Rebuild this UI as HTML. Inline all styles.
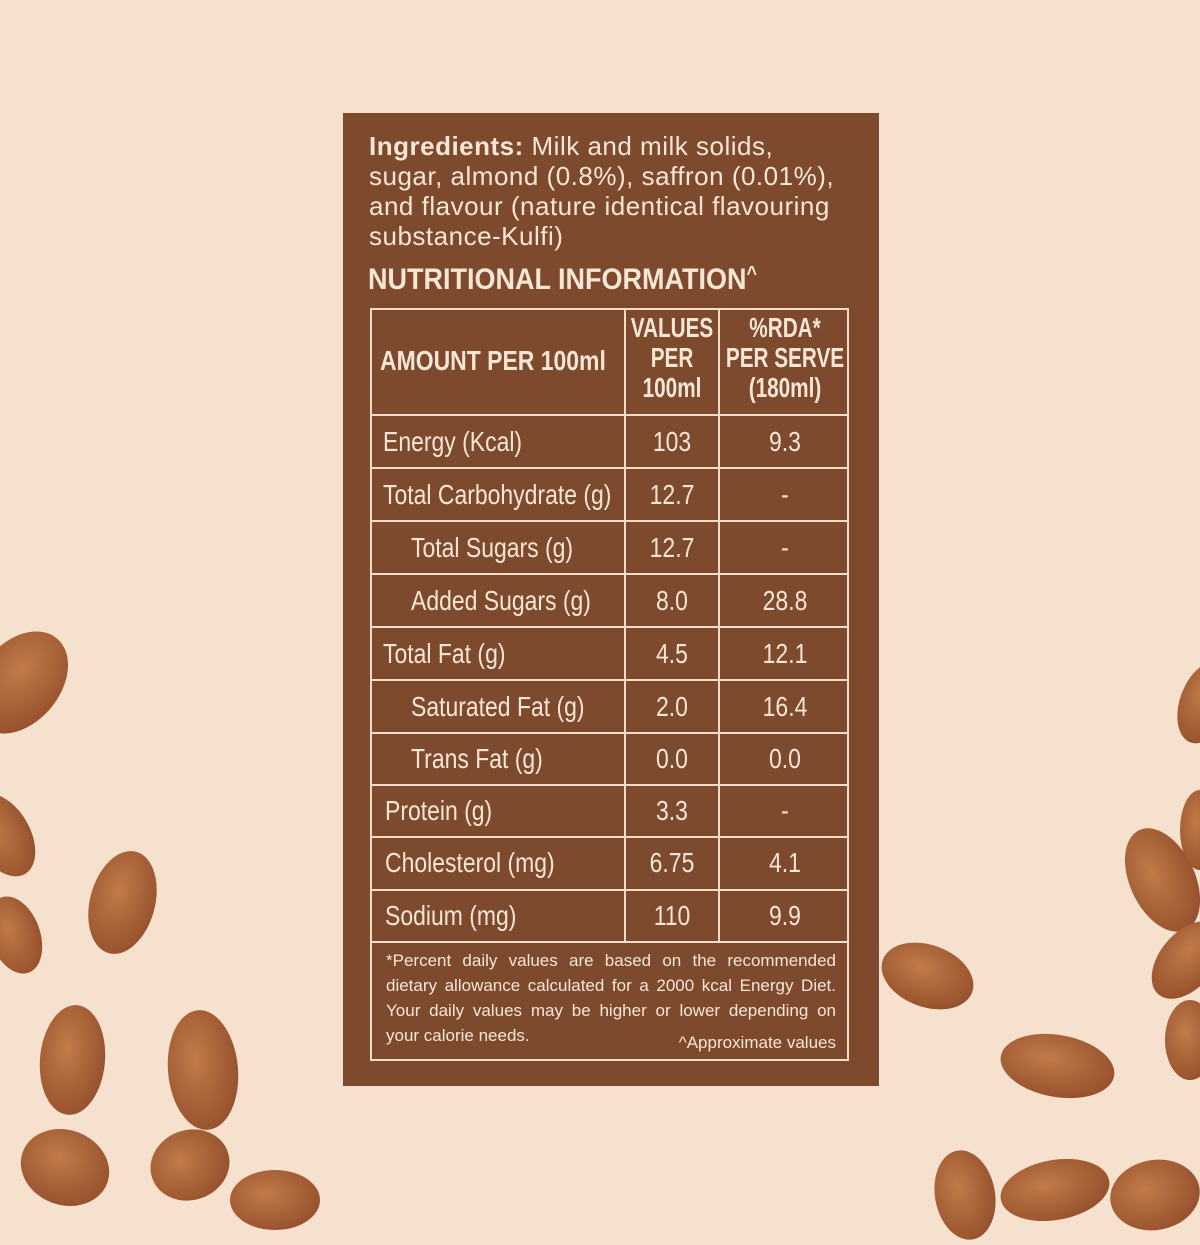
<!DOCTYPE html>
<html><head><meta charset="utf-8"><style>
body{margin:0;width:1200px;height:1200px;background:#f5e1cd;position:relative;overflow:hidden;font-family:"Liberation Sans",sans-serif;}
.panel{position:absolute;left:343px;top:113px;width:536px;height:973px;background:#7d4a2d;color:#f7e6d6;}
.ing{position:absolute;left:26px;top:18px;font-size:26px;line-height:30px;white-space:nowrap;letter-spacing:0.5px;}
.title{position:absolute;left:25px;top:150px;font-size:30px;font-weight:bold;white-space:nowrap;transform:scaleX(0.9);transform-origin:left;}
.t{position:absolute;border:2px solid #f4dcc8;box-sizing:border-box;}
.h{position:absolute;background:#f4dcc8;height:2px;}
.v{position:absolute;background:#f4dcc8;width:2px;}
.c{position:absolute;font-size:28px;line-height:52px;white-space:nowrap;}
.c span{display:inline-block;transform:scaleX(0.82);transform-origin:left;}
.n span{position:absolute;left:50%;top:0;text-align:center;transform:translateX(-50%) scaleX(0.82);transform-origin:center;}
.hd span{transform:translateX(-50%) scaleX(0.74);}
.f{position:absolute;left:43px;width:450px;font-size:17px;line-height:25px;text-align:justify;text-align-last:justify;white-space:nowrap;}
.a{position:absolute;border-radius:50%;background:radial-gradient(ellipse at 40% 40%,#c27a48,#9a5530 70%,#7a3e22);}
</style></head><body>
<div class="a" style="left:-20px;top:625px;width:80px;height:115px;transform:rotate(40deg)"></div>
<div class="a" style="left:-25px;top:790px;width:55px;height:90px;transform:rotate(-30deg)"></div>
<div class="a" style="left:90px;top:850px;width:65px;height:105px;transform:rotate(15deg)"></div>
<div class="a" style="left:-10px;top:895px;width:50px;height:80px;transform:rotate(-20deg)"></div>
<div class="a" style="left:40px;top:1005px;width:65px;height:110px;transform:rotate(5deg)"></div>
<div class="a" style="left:168px;top:1010px;width:70px;height:120px;transform:rotate(-5deg)"></div>
<div class="a" style="left:20px;top:1130px;width:90px;height:75px;transform:rotate(20deg)"></div>
<div class="a" style="left:150px;top:1130px;width:80px;height:70px;transform:rotate(-20deg)"></div>
<div class="a" style="left:230px;top:1170px;width:90px;height:60px"></div>
<div class="a" style="left:1180px;top:660px;width:50px;height:85px;transform:rotate(20deg)"></div>
<div class="a" style="left:1180px;top:790px;width:40px;height:80px"></div>
<div class="a" style="left:1130px;top:825px;width:65px;height:110px;transform:rotate(-25deg)"></div>
<div class="a" style="left:880px;top:945px;width:95px;height:62px;transform:rotate(20deg)"></div>
<div class="a" style="left:1160px;top:915px;width:55px;height:90px;transform:rotate(40deg)"></div>
<div class="a" style="left:1000px;top:1035px;width:115px;height:62px;transform:rotate(10deg)"></div>
<div class="a" style="left:1165px;top:1000px;width:50px;height:80px"></div>
<div class="a" style="left:935px;top:1150px;width:60px;height:90px;transform:rotate(-10deg)"></div>
<div class="a" style="left:1000px;top:1160px;width:110px;height:60px;transform:rotate(-10deg)"></div>
<div class="a" style="left:1110px;top:1160px;width:90px;height:70px;transform:rotate(-10deg)"></div>
<div class="panel">
<div class="ing"><b>Ingredients:</b> Milk and milk solids,<br>sugar, almond (0.8%), saffron (0.01%),<br>and flavour (nature identical flavouring<br>substance-Kulfi)</div>
<div class="title">NUTRITIONAL INFORMATION<span style="font-size:20px;vertical-align:top">^</span></div>
<div class="t" style="left:27px;top:195px;width:479px;height:753px"></div>
<div class="v" style="left:281px;top:195px;height:633px"></div>
<div class="v" style="left:375px;top:195px;height:633px"></div>
<div class="h" style="left:27px;top:301px;width:479px"></div>
<div class="h" style="left:27px;top:354px;width:479px"></div>
<div class="h" style="left:27px;top:407px;width:479px"></div>
<div class="h" style="left:27px;top:460px;width:479px"></div>
<div class="h" style="left:27px;top:513px;width:479px"></div>
<div class="h" style="left:27px;top:566px;width:479px"></div>
<div class="h" style="left:27px;top:619px;width:479px"></div>
<div class="h" style="left:27px;top:671px;width:479px"></div>
<div class="h" style="left:27px;top:723px;width:479px"></div>
<div class="h" style="left:27px;top:776px;width:479px"></div>
<div class="h" style="left:27px;top:828px;width:479px"></div>
<div class="c" style="left:37px;top:222px;font-weight:bold;"><span>AMOUNT PER 100ml</span></div>
<div class="c n hd" style="left:283px;top:200px;width:92px;font-weight:bold;line-height:30px"><span>VALUES<br>PER<br>100ml</span></div>
<div class="c n hd" style="left:377px;top:200px;width:129px;font-weight:bold;line-height:30px"><span>%RDA*<br>PER SERVE<br>(180ml)</span></div>
<div class="c" style="left:40px;top:303px"><span>Energy (Kcal)</span></div><div class="c n" style="left:283px;top:303px;width:92px"><span>103</span></div><div class="c n" style="left:377px;top:303px;width:129px"><span>9.3</span></div>
<div class="c" style="left:40px;top:356px"><span>Total Carbohydrate (g)</span></div><div class="c n" style="left:283px;top:356px;width:92px"><span>12.7</span></div><div class="c n" style="left:377px;top:356px;width:129px"><span>-</span></div>
<div class="c" style="left:68px;top:409px"><span>Total Sugars (g)</span></div><div class="c n" style="left:283px;top:409px;width:92px"><span>12.7</span></div><div class="c n" style="left:377px;top:409px;width:129px"><span>-</span></div>
<div class="c" style="left:68px;top:462px"><span>Added Sugars (g)</span></div><div class="c n" style="left:283px;top:462px;width:92px"><span>8.0</span></div><div class="c n" style="left:377px;top:462px;width:129px"><span>28.8</span></div>
<div class="c" style="left:40px;top:515px"><span>Total Fat (g)</span></div><div class="c n" style="left:283px;top:515px;width:92px"><span>4.5</span></div><div class="c n" style="left:377px;top:515px;width:129px"><span>12.1</span></div>
<div class="c" style="left:68px;top:568px"><span>Saturated Fat (g)</span></div><div class="c n" style="left:283px;top:568px;width:92px"><span>2.0</span></div><div class="c n" style="left:377px;top:568px;width:129px"><span>16.4</span></div>
<div class="c" style="left:68px;top:620px"><span>Trans Fat (g)</span></div><div class="c n" style="left:283px;top:620px;width:92px"><span>0.0</span></div><div class="c n" style="left:377px;top:620px;width:129px"><span>0.0</span></div>
<div class="c" style="left:42px;top:672px"><span>Protein (g)</span></div><div class="c n" style="left:283px;top:672px;width:92px"><span>3.3</span></div><div class="c n" style="left:377px;top:672px;width:129px"><span>-</span></div>
<div class="c" style="left:42px;top:724px"><span>Cholesterol (mg)</span></div><div class="c n" style="left:283px;top:724px;width:92px"><span>6.75</span></div><div class="c n" style="left:377px;top:724px;width:129px"><span>4.1</span></div>
<div class="c" style="left:42px;top:777px"><span>Sodium (mg)</span></div><div class="c n" style="left:283px;top:777px;width:92px"><span>110</span></div><div class="c n" style="left:377px;top:777px;width:129px"><span>9.9</span></div>
<div class="f" style="top:835px">*Percent daily values are based on the recommended</div>
<div class="f" style="top:860px">dietary allowance calculated for a 2000 kcal Energy Diet.</div>
<div class="f" style="top:885px">Your daily values may be higher or lower depending on</div>
<div style="position:absolute;left:43px;top:910px;font-size:17px;line-height:25px">your calorie needs.</div>
<div style="position:absolute;right:43px;top:917px;font-size:17px;line-height:25px">^Approximate values</div>
</div>
</body></html>
